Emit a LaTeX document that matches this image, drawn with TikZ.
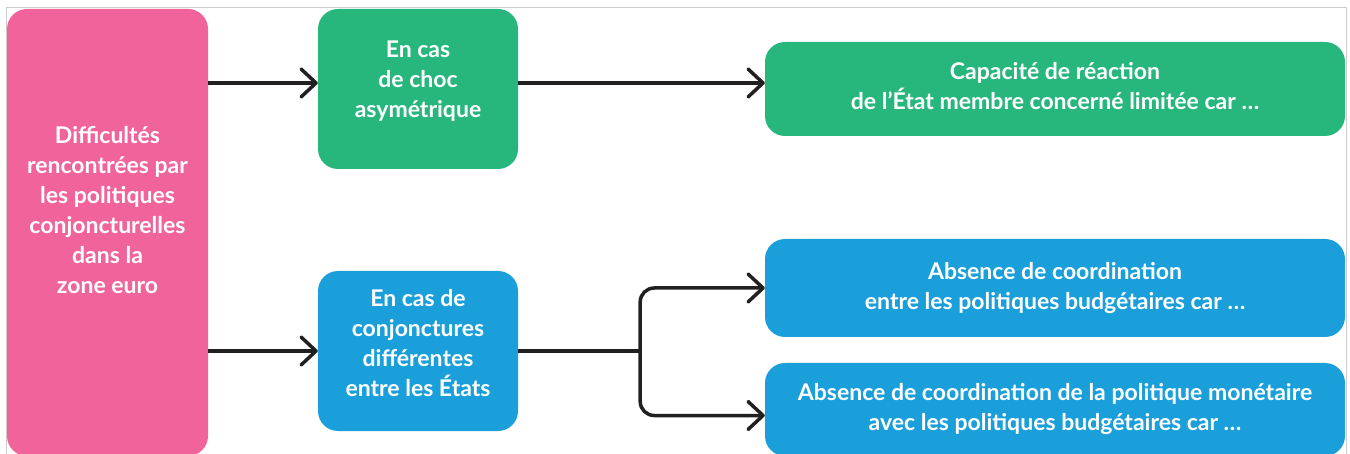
\documentclass[tikz,border=0pt]{standalone}
\usepackage{fontspec}
\setmainfont{Lato}
\usetikzlibrary{arrows.meta}

\definecolor{rose}{RGB}{240,100,155}
\definecolor{vert}{RGB}{39,183,125}
\definecolor{bleu}{RGB}{26,159,218}
\definecolor{trait}{RGB}{34,31,32}

\begin{document}
\begin{tikzpicture}[x=1pt, y=-1pt,
  box/.style={rectangle, rounded corners=20pt, text=white, align=center,
    inner sep=0pt, font=\bfseries\fontsize{23}{30}\selectfont},
  ligne/.style={line width=3.5pt, draw=trait},
  arr/.style={ligne, -{Straight Barb[length=15pt,width=28pt,round]}}]
\useasboundingbox (0,0) rectangle (1350,454);
% Cadre
\draw[gray!40, line width=1pt] (6,470) -- (6,8) -- (1346,8) -- (1346,470);

\node[box, fill=rose, minimum width=201pt, minimum height=447pt] (diff) at (107.5,232.5) {};
\node[box] (difftxt) at (107.5,210) {Difficultés\\rencontrées par\\les politiques\\conjoncturelles\\dans la\\zone euro};
\node[box, fill=vert, minimum width=200pt, minimum height=160pt, text depth=20pt] (choc) at (418,89) {En cas\\de choc\\asymétrique};
\node[box, fill=bleu, minimum width=200pt, minimum height=160pt, text depth=16pt] (conj) at (418,351) {En cas de\\conjonctures\\différentes\\entre les États};
\node[box, fill=vert, minimum width=580pt, minimum height=94pt, text depth=6pt] (capa) at (1055,89) {Capacité de réaction\\de l’État membre concerné limitée car \dots};
\node[box, fill=bleu, minimum width=580pt, minimum height=98pt] (budg) at (1055,288) {Absence de coordination\\entre les politiques budgétaires car \dots};
\node[box, fill=bleu, minimum width=580pt, minimum height=93pt] (mone) at (1055,409.5) {Absence de coordination de la politique monétaire\\avec les politiques budgétaires car \dots};

% Fleches
\draw[arr] (diff.east |- 0,83) -- ([yshift=6pt]choc.west);
\draw[arr] ([yshift=6pt]choc.east) -- ([yshift=6pt]capa.west);
\draw[arr] (diff.east |- conj.west) -- (conj.west);
\draw[ligne] (conj.east) -- ++(122,0) coordinate (split);
\draw[arr, rounded corners=14pt] (split) |- (budg.west);
\draw[arr, rounded corners=14pt] (split) |- ([yshift=-6pt]mone.west);
\end{tikzpicture}
\end{document}
